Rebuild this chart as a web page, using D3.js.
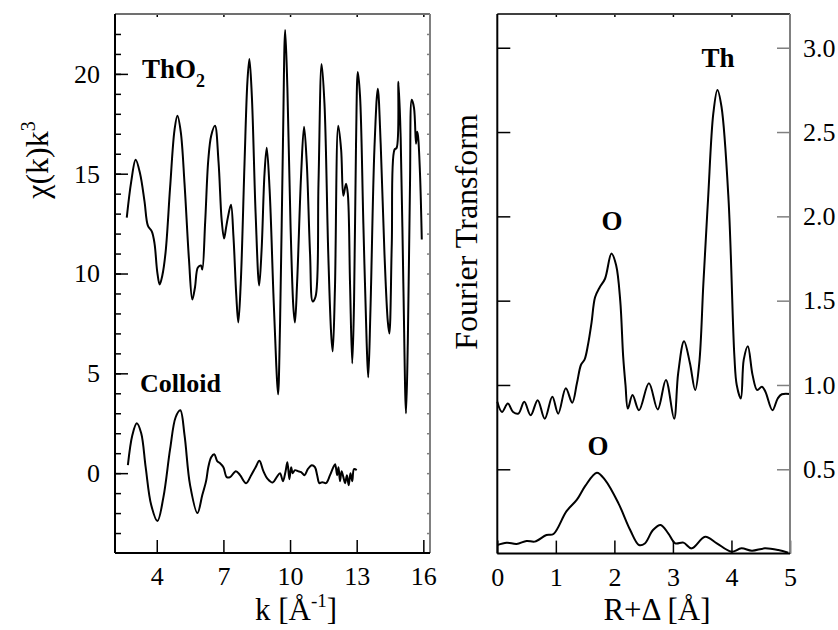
<!DOCTYPE html>
<html>
<head>
<meta charset="utf-8">
<script src="https://cdn.jsdelivr.net/npm/d3@7"></script>
<style>
  body { margin: 0; background: #fff; }
  svg text { font-family: "Liberation Serif", "Times New Roman", serif; fill: #000; }
</style>
</head>
<body>
<div id="chart"></div>
<script>
// EXAFS chi(k)k^3 (left) and its Fourier transform (right)
var thoK   = [2.65, 2.85, 3.05, 3.25, 3.45, 3.60, 3.78, 3.90, 4.02, 4.13, 4.25, 4.40, 4.60, 4.80, 4.93, 5.08, 5.25, 5.45, 5.60, 5.72, 5.85, 5.99, 6.05, 6.18, 6.32, 6.45, 6.62, 6.78, 6.92, 7.03, 7.12, 7.20, 7.34, 7.45, 7.58, 7.67, 7.78, 7.95, 8.08, 8.17, 8.28, 8.45, 8.61, 8.72, 8.85, 8.95, 9.08, 9.25, 9.38, 9.46, 9.55, 9.68, 9.78, 9.88, 10.02, 10.15, 10.22, 10.32, 10.50, 10.63, 10.75, 10.90, 11.02, 11.15, 11.28, 11.42, 11.55, 11.72, 11.85, 11.92, 12.02, 12.17, 12.30, 12.40, 12.52, 12.60, 12.70, 12.80, 12.88, 12.97, 13.05, 13.15, 13.30, 13.45, 13.52, 13.62, 13.80, 13.95, 14.08, 14.25, 14.40, 14.47, 14.58, 14.70, 14.80, 14.88, 14.98, 15.10, 15.22, 15.30, 15.40, 15.48, 15.58, 15.67, 15.72, 15.76, 15.85, 15.93];
var thoChi = [12.8, 14.6, 15.7, 15.0, 13.6, 12.4, 12.1, 11.5, 10.1, 9.45, 9.9, 11.1, 14.3, 17.2, 17.9, 17.1, 14.5, 10.7, 8.7, 9.3, 10.3, 10.4, 10.2, 12.6, 15.7, 16.9, 17.4, 15.6, 12.7, 11.75, 12.3, 12.8, 13.45, 11.9, 8.9, 7.55, 9.5, 15.5, 19.6, 20.75, 18.9, 13.0, 9.4, 11.2, 15.0, 16.3, 14.2, 9.0, 5.4, 3.95, 7.5, 16.5, 22.2, 19.3, 12.5, 8.3, 7.55, 9.6, 15.0, 17.35, 15.6, 11.0, 8.6, 8.85, 14.5, 20.5, 18.5, 11.0, 7.0, 6.1, 9.2, 17.4, 16.2, 13.9, 14.5, 14.0, 9.5, 5.5, 8.5, 16.5, 20.1, 18.9, 12.5, 6.5, 4.8, 8.2, 16.3, 19.25, 16.5, 11.0, 7.6, 7.0, 11.5, 16.2, 16.3, 19.6, 16.8, 9.5, 3.0, 6.5, 14.5, 18.7, 18.3, 16.5, 17.1, 16.9, 15.0, 11.7];

var colK   = [2.70, 2.90, 3.10, 3.30, 3.50, 3.75, 4.03, 4.30, 4.60, 4.85, 5.06, 5.25, 5.50, 5.83, 6.05, 6.22, 6.32, 6.45, 6.59, 6.72, 6.85, 7.00, 7.15, 7.30, 7.56, 7.75, 8.02, 8.25, 8.45, 8.62, 8.80, 9.00, 9.22, 9.40, 9.55, 9.68, 9.80, 9.88, 9.97, 10.05, 10.12, 10.22, 10.35, 10.50, 10.65, 10.80, 10.98, 11.12, 11.22, 11.32, 11.45, 11.62, 11.80, 11.95, 12.03, 12.12, 12.18, 12.25, 12.32, 12.40, 12.48, 12.56, 12.64, 12.72, 12.80, 12.88, 13.00];
var colChi = [0.4, 1.9, 2.5, 2.0, 0.3, -1.6, -2.4, -1.2, 1.2, 2.8, 3.15, 1.9, -0.6, -2.0, -1.1, -0.4, 0.3, 0.8, 0.95, 0.6, 0.5, 0.3, -0.2, -0.2, 0.1, -0.1, -0.5, -0.1, 0.3, 0.62, 0.1, -0.3, -0.47, -0.2, 0.0, -0.4, 0.1, 0.55, -0.3, 0.3, 0.0, 0.15, 0.1, 0.05, -0.1, 0.2, 0.4, 0.3, -0.1, -0.5, -0.45, -0.5, -0.1, 0.3, 0.45, -0.1, 0.3, -0.4, 0.1, -0.2, -0.5, -0.1, -0.6, 0.0, -0.4, 0.2, 0.15];

var ftR    = [0.00, 0.08, 0.18, 0.27, 0.36, 0.46, 0.57, 0.69, 0.81, 0.94, 1.04, 1.17, 1.28, 1.36, 1.43, 1.49, 1.55, 1.61, 1.67, 1.75, 1.84, 1.95, 2.03, 2.10, 2.15, 2.19, 2.23, 2.31, 2.42, 2.59, 2.74, 2.88, 3.02, 3.09, 3.19, 3.29, 3.38, 3.45, 3.52, 3.60, 3.69, 3.76, 3.83, 3.95, 4.05, 4.09, 4.16, 4.21, 4.28, 4.36, 4.44, 4.52, 4.58, 4.70, 4.79, 4.86, 5.00];
var ftTho  = [0.90, 0.84, 0.89, 0.84, 0.83, 0.90, 0.82, 0.91, 0.80, 0.93, 0.83, 0.98, 0.895, 1.01, 1.12, 1.15, 1.24, 1.37, 1.52, 1.58, 1.63, 1.78, 1.71, 1.50, 1.17, 1.00, 0.86, 0.94, 0.85, 1.01, 0.855, 1.03, 0.80, 1.07, 1.26, 1.13, 0.97, 1.13, 1.60, 2.10, 2.61, 2.75, 2.65, 2.10, 1.17, 1.00, 0.92, 1.15, 1.23, 1.06, 0.97, 0.99, 0.96, 0.85, 0.92, 0.945, 0.947];

var ftRc   = [0.00, 0.16, 0.33, 0.50, 0.64, 0.84, 0.96, 1.18, 1.36, 1.50, 1.70, 1.84, 2.07, 2.27, 2.42, 2.52, 2.66, 2.79, 2.92, 3.04, 3.18, 3.32, 3.55, 3.75, 4.00, 4.17, 4.35, 4.57, 4.80, 4.97];
var ftCol  = [0.051, 0.065, 0.057, 0.075, 0.071, 0.11, 0.116, 0.25, 0.32, 0.40, 0.48, 0.437, 0.298, 0.14, 0.051, 0.06, 0.14, 0.17, 0.12, 0.061, 0.065, 0.031, 0.10, 0.061, 0.011, 0.031, 0.017, 0.031, 0.021, 0.005];

var kTicks = [4, 7, 10, 13, 16];
var chiTicks = [0, 5, 10, 15, 20];
var rTicks = [0, 1, 2, 3, 4, 5];
var ftTicks = [0.5, 1.0, 1.5, 2.0, 2.5, 3.0];

var serif = "Liberation Serif, Times New Roman, serif";
var width = 838, height = 630;
var svg = d3.select("#chart").append("svg").attr("width", width).attr("height", height)
  .attr("font-family", serif);
svg.append("rect").attr("width", width).attr("height", height).attr("fill", "#fff");

var line = function(x, y) {
  return d3.line().x(function(d) { return x(d[0]); }).y(function(d) { return y(d[1]); }).curve(d3.curveCatmullRom.alpha(0.5));
};

// ---------- left panel ----------
var xL = d3.scaleLinear().domain([2.12, 16.3]).range([115, 430]);
var yL = d3.scaleLinear().domain([-4, 23]).range([553, 14]);

var left = svg.append("g");
left.append("g").attr("transform", "translate(115,0)")
  .call(d3.axisLeft(yL).tickValues(d3.range(-3, 23)).tickSize(-6).tickFormat(""));
left.append("g").attr("transform", "translate(115,0)")
  .call(d3.axisLeft(yL).tickValues(chiTicks).tickSize(-13).tickPadding(15).tickFormat(d3.format("d")));
left.append("g").attr("class", "gray").attr("transform", "translate(430,0)")
  .call(d3.axisRight(yL).tickValues(d3.range(-3, 23)).tickSize(-3).tickFormat(""));
left.append("g").attr("transform", "translate(0,553)")
  .call(d3.axisBottom(xL).tickValues(kTicks).tickSize(-13).tickPadding(14).tickFormat(d3.format("d")));
left.append("g").attr("transform", "translate(0,14)")
  .call(d3.axisTop(xL).tickValues(kTicks).tickSize(-3).tickFormat(""));

left.append("path").datum(d3.zip(thoK, thoChi))
  .attr("fill", "none").attr("stroke", "#000").attr("stroke-width", 2).attr("d", line(xL, yL));
left.append("path").datum(d3.zip(colK, colChi))
  .attr("fill", "none").attr("stroke", "#000").attr("stroke-width", 2).attr("d", line(xL, yL));

var tho = left.append("text").attr("x", 142).attr("y", 78).style("font-size", "27px").style("font-weight", "bold");
tho.append("tspan").text("ThO");
tho.append("tspan").attr("dy", 9).style("font-size", "18px").text("2");
left.append("text").attr("x", 140).attr("y", 392).style("font-size", "26px").style("font-weight", "bold").text("Colloid");

var yLab = left.append("text").attr("transform", "translate(48,160) rotate(-90)")
  .attr("text-anchor", "middle").style("font-size", "32px");
yLab.append("tspan").text("\u03c7(k)k");
yLab.append("tspan").attr("dy", -13).style("font-size", "20px").text("3");

var xLab = left.append("text").attr("x", 296).attr("y", 620).attr("text-anchor", "middle").style("font-size", "31px");
xLab.append("tspan").text("k [\u00c5");
xLab.append("tspan").attr("dy", -13).style("font-size", "19px").text("-1");
xLab.append("tspan").attr("dy", 13).text("]");

// ---------- right panel ----------
var xR = d3.scaleLinear().domain([0, 5]).range([497.3, 790]);
var yR = d3.scaleLinear().domain([0, 3.2]).range([553.6, 14]);

var right = svg.append("g");
right.append("g").attr("transform", "translate(497.3,0)")
  .call(d3.axisLeft(yR).tickValues(ftTicks).tickSize(-13).tickFormat(""));
right.append("g").attr("class", "gray").attr("transform", "translate(790,0)")
  .call(d3.axisRight(yR).tickValues(ftTicks).tickSize(-13).tickPadding(13).tickFormat(d3.format(".1f")));
right.append("g").attr("transform", "translate(0,553.6)")
  .call(d3.axisBottom(xR).tickValues(rTicks).tickSize(-13).tickPadding(14).tickFormat(d3.format("d")));
right.append("g").attr("transform", "translate(0,14)")
  .call(d3.axisTop(xR).tickValues([1, 2, 3, 4]).tickSize(-3).tickFormat(""));

right.append("path").datum(d3.zip(ftR, ftTho))
  .attr("fill", "none").attr("stroke", "#000").attr("stroke-width", 2).attr("d", line(xR, yR));
right.append("path").datum(d3.zip(ftRc, ftCol))
  .attr("fill", "none").attr("stroke", "#000").attr("stroke-width", 2).attr("d", line(xR, yR));

right.append("text").attr("x", 718).attr("y", 67).attr("text-anchor", "middle").style("font-size", "27px").style("font-weight", "bold").text("Th");
right.append("text").attr("x", 612).attr("y", 230).attr("text-anchor", "middle").style("font-size", "27px").style("font-weight", "bold").text("O");
right.append("text").attr("x", 598).attr("y", 455).attr("text-anchor", "middle").style("font-size", "27px").style("font-weight", "bold").text("O");

right.append("text").attr("transform", "translate(477,232) rotate(-90)")
  .attr("text-anchor", "middle").style("font-size", "32px").text("Fourier Transform");
right.append("text").attr("x", 657).attr("y", 620).attr("text-anchor", "middle").style("font-size", "31px").text("R+\u0394 [\u00c5]");

// styling of axes: no domain path, frames drawn separately
svg.selectAll(".domain").remove();
svg.selectAll(".tick").select(function() { return this.parentNode; }).attr("font-family", serif).attr("font-size", 26);
svg.selectAll(".tick text").style("font-size", "26px").style("font-family", serif).attr("fill", "#000");
svg.selectAll(".tick line").attr("stroke", "#000").attr("stroke-width", 1.5);
svg.selectAll(".gray .tick line").attr("stroke", "#808080");

var frame = [
  [115, 14, 430, 14, "#707070"], [430, 14, 430, 553, "#808080"],
  [115, 14, 115, 553, "#000"], [115, 553, 430, 553, "#000"],
  [497.3, 14, 790, 14, "#404040"], [790, 14, 790, 553.6, "#808080"],
  [497.3, 14, 497.3, 553.6, "#000"], [497.3, 553.6, 790, 553.6, "#000"]
];
svg.append("g").selectAll("line").data(frame).enter().append("line")
  .attr("x1", function(d) { return d[0]; }).attr("y1", function(d) { return d[1]; })
  .attr("x2", function(d) { return d[2]; }).attr("y2", function(d) { return d[3]; })
  .attr("stroke", function(d) { return d[4]; }).attr("stroke-width", 2);
</script>
</body>
</html>
